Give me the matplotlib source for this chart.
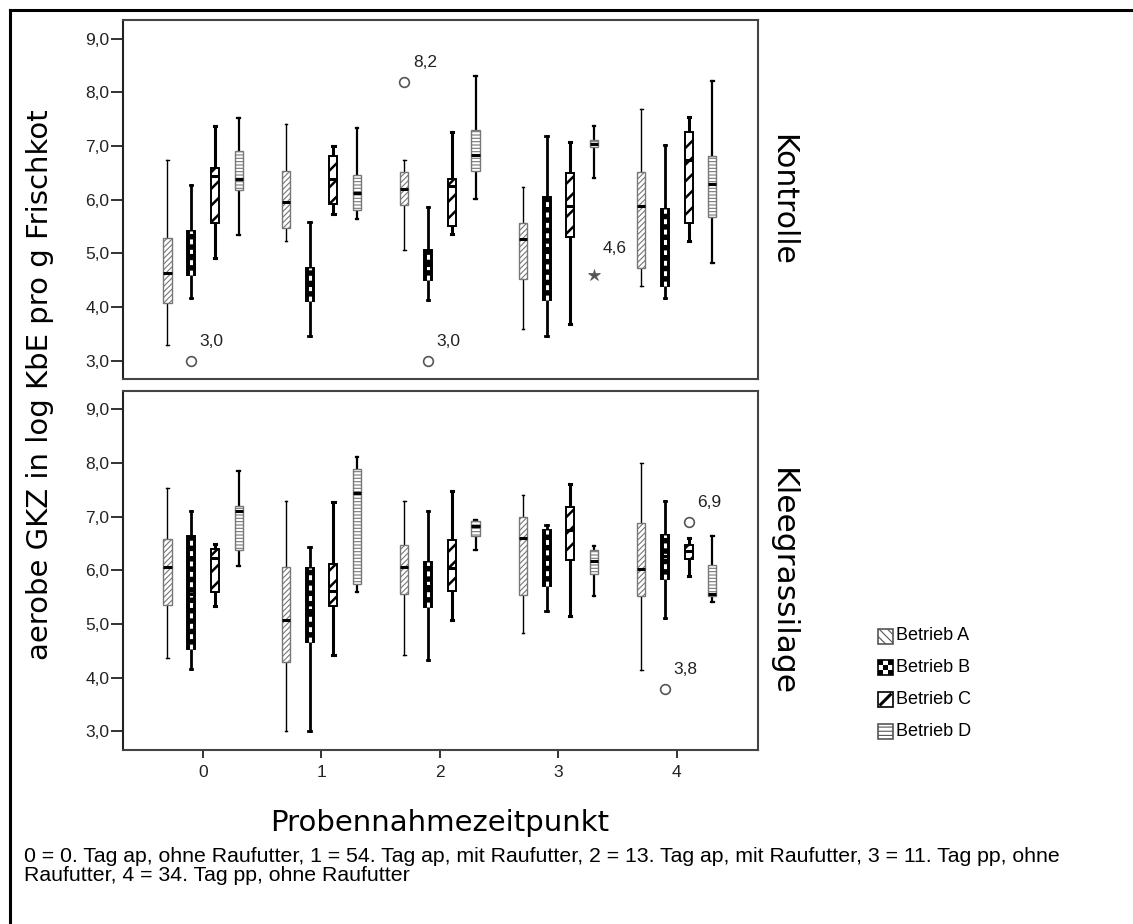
import matplotlib
matplotlib.use('Agg')
import numpy as np
from matplotlib import pyplot as plt
from matplotlib.patches import Rectangle
from matplotlib.lines import Line2D

plt.rcParams['font.family'] = ['Liberation Sans', 'DejaVu Sans']
plt.rcParams['hatch.linewidth'] = 0.8

# =============================================================================
# data: per time point (whislo, q1, median, q3, whishi)
# =============================================================================
zeitpunkte = [0, 1, 2, 3, 4]
betriebe = ['Betrieb A', 'Betrieb B', 'Betrieb C', 'Betrieb D']
gruppen = ['Kontrolle', 'Kleegrassilage']

kontrolle_A = [[3.29, 4.07, 4.63, 5.29, 6.74], [5.23, 5.47, 5.95, 6.54, 7.42], [5.07, 5.90, 6.20, 6.51, 6.74],
               [3.60, 4.53, 5.26, 5.56, 6.23], [4.39, 4.73, 5.88, 6.52, 7.69]]
kontrolle_B = [[4.17, 4.59, 4.98, 5.42, 6.28], [3.47, 4.12, 4.42, 4.73, 5.59], [4.13, 4.50, 4.79, 5.06, 5.87],
               [3.47, 4.14, 5.10, 6.05, 7.18], [4.17, 4.39, 4.95, 5.82, 7.02]]
kontrolle_C = [[4.92, 5.56, 6.45, 6.59, 7.38], [5.74, 5.93, 6.38, 6.81, 7.00], [5.36, 5.51, 6.26, 6.38, 7.26],
               [3.69, 5.31, 5.88, 6.49, 7.07], [5.24, 5.56, 6.75, 7.26, 7.54]]
kontrolle_D = [[5.34, 6.18, 6.38, 6.90, 7.52], [5.65, 5.81, 6.13, 6.47, 7.34], [6.01, 6.53, 6.83, 7.30, 8.31],
               [6.40, 6.98, 7.04, 7.12, 7.38], [4.83, 5.67, 6.29, 6.81, 8.22]]

klee_A = [[4.36, 5.35, 6.06, 6.58, 7.53], [3.00, 4.30, 5.07, 6.07, 7.29], [4.43, 5.56, 6.06, 6.47, 7.30],
          [4.84, 5.55, 6.61, 6.99, 7.40], [4.14, 5.52, 6.03, 6.89, 8.00]]
klee_B = [[4.16, 4.54, 5.56, 6.64, 7.11], [3.00, 4.66, 5.27, 6.04, 6.43], [4.33, 5.32, 5.72, 6.15, 7.11],
          [5.24, 5.72, 6.21, 6.75, 6.84], [5.12, 5.84, 6.27, 6.66, 7.30]]
klee_C = [[5.33, 5.59, 6.24, 6.40, 6.49], [4.42, 5.33, 5.62, 6.12, 7.27], [5.07, 5.62, 6.04, 6.57, 7.48],
          [5.16, 6.20, 6.75, 7.18, 7.61], [5.89, 6.22, 6.36, 6.47, 6.61]]
klee_D = [[6.09, 6.38, 7.11, 7.21, 7.86], [5.59, 5.74, 7.44, 7.89, 8.12], [6.38, 6.64, 6.82, 6.93, 6.95],
          [5.53, 5.93, 6.18, 6.38, 6.46], [5.41, 5.52, 5.56, 6.11, 6.64]]

# outliers: (gruppe index, zeitpunkt, betrieb index, value, marker)
ausreisser = [(0, 0, 1, 3.0, 'o'), (0, 2, 0, 8.2, 'o'), (0, 2, 1, 3.0, 'o'), (0, 3, 3, 4.6, '*'),
              (1, 4, 2, 6.9, 'o'), (1, 4, 1, 3.8, 'o')]

daten = [[kontrolle_A, kontrolle_B, kontrolle_C, kontrolle_D],
         [klee_A, klee_B, klee_C, klee_D]]

fussnote = ("0 = 0. Tag ap, ohne Raufutter, 1 = 54. Tag ap, mit Raufutter, 2 = 13. Tag ap, mit Raufutter, "
            "3 = 11. Tag pp, ohne\nRaufutter, 4 = 34. Tag pp, ohne Raufutter")

# =============================================================================
# styles per Betrieb
# =============================================================================
offsets = [-0.3, -0.1, 0.1, 0.3]
box_w = 0.068
stile = [
    dict(edge='#777777', face='white', hatch='//////', lw_box=1.0, lw_whisk=1.0),
    dict(edge='black', face='black', hatch=None, lw_box=1.4, lw_whisk=2.0),
    dict(edge='black', face='white', hatch='//', lw_box=1.4, lw_whisk=2.2),
    dict(edge='#777777', face='white', hatch='-----', lw_box=1.0, lw_whisk=1.6),
]

W, H = 1133, 924
fig = plt.figure(figsize=(W / 100, H / 100), dpi=100)

ax_left = 122.7 / W
ax_w = 635.6 / W
ax_h = 359.3 / H
ax_top = fig.add_axes([ax_left, 1 - 379.3 / H, ax_w, ax_h])
ax_bot = fig.add_axes([ax_left, 1 - 750 / H, ax_w, ax_h])
axes = [ax_top, ax_bot]


def draw_panel(ax, panel):
    for b, werte in enumerate(daten[panel]):
        st = stile[b]
        stats = [dict(whislo=v[0], q1=v[1], med=v[2], q3=v[3], whishi=v[4], fliers=[]) for v in werte]
        pos = [t + offsets[b] for t in zeitpunkte]
        res = ax.bxp(stats, positions=pos, widths=box_w, patch_artist=True, showfliers=False,
                     capwidths=0.02, manage_ticks=False,
                     boxprops=dict(facecolor=st['face'], edgecolor=st['edge'], linewidth=st['lw_box']),
                     whiskerprops=dict(color='black', linewidth=st['lw_whisk']),
                     capprops=dict(color='black', linewidth=st['lw_whisk']),
                     medianprops=dict(color='black', linewidth=2.2, solid_capstyle='butt'))
        for box in res['boxes']:
            box.set_zorder(3)
            if st['hatch']:
                box.set_hatch(st['hatch'])
                if b == 2 and hasattr(box, 'set_hatch_linewidth'):
                    box.set_hatch_linewidth(1.8)
        for med in res['medians']:
            med.set_zorder(4)
        if b == 1:
            # checker look: white squares down the middle of the black box
            for p, v in zip(pos, werte):
                ax.plot([p, p], [v[1], v[3]], color='white', linewidth=2.2, dashes=(1.6, 1.8),
                        solid_capstyle='butt', dash_capstyle='butt', zorder=3.5)

    for g, t, b, val, m in ausreisser:
        if g != panel:
            continue
        x = t + offsets[b]
        if m == 'o':
            ax.plot(x, val, marker='o', markersize=7, markerfacecolor='none', markeredgecolor='#555555',
                    markeredgewidth=1.2, linestyle='none', zorder=5)
            dy = 14
        else:
            ax.plot(x, val, marker='*', markersize=9, color='#555555', markeredgewidth=0.5,
                    linestyle='none', zorder=5)
            dy = 19
        ax.annotate('{:.1f}'.format(val).replace('.', ','), (x, val), xytext=(6, dy),
                    textcoords='offset points', fontsize=12.5, ha='left', va='center', color='#222222')


for i, ax in enumerate(axes):
    draw_panel(ax, i)
    ax.set_xlim(-0.678, 4.687)
    ax.set_ylim(2.655, 9.35)
    ax.set_yticks(np.arange(3, 9.5, 1.0))
    ax.set_yticklabels(['{:.1f}'.format(v).replace('.', ',') for v in np.arange(3, 9.5, 1.0)])
    ax.tick_params(axis='y', direction='out', length=8.5, width=1.3, labelsize=12.5, pad=1, colors='#222222')
    for s in ax.spines.values():
        s.set_color('#444444')
        s.set_linewidth(1.5)
    ax.spines['left'].set_color('#222222')
    ax.text(1.038, 0.5 if i == 0 else 0.468, gruppen[i], transform=ax.transAxes, rotation=-90,
            ha='center', va='center', fontsize=21.5 if i == 0 else 22.5, family='DejaVu Sans')

ax_top.set_xticks([])
ax_bot.set_xticks(zeitpunkte)
ax_bot.set_xticklabels([str(t) for t in zeitpunkte])
ax_bot.tick_params(axis='x', direction='out', length=6, width=1.3, labelsize=12.5, pad=5, colors='#222222')

fig.text(40 / W, 1 - 385 / H, 'aerobe GKZ in log KbE pro g Frischkot', rotation=90, ha='center', va='center',
         fontsize=21, family='DejaVu Sans')
fig.text(440 / W, 1 - 823 / H, 'Probennahmezeitpunkt', ha='center', va='center',
         fontsize=21, family='DejaVu Sans')
fig.text(24 / W, 1 - 866 / H, fussnote, ha='left', va='center', fontsize=15.3, linespacing=1.0)

# legend drawn by hand in pixel coordinates
lax = fig.add_axes([860 / W, 1 - 750 / H, 150 / W, 130 / H])
lax.set_xlim(860, 1010)
lax.set_ylim(750, 620)
lax.axis('off')
for k, name in enumerate(betriebe):
    yc = 636 + k * 31.8
    x0, y0, s = 878, yc - 7.5, 15
    if k == 1:
        n = 3
        for r in range(n):
            for c in range(n):
                col = 'black' if (r + c) % 2 == 0 else 'white'
                lax.add_patch(Rectangle((x0 + c * s / n, y0 + r * s / n), s / n, s / n, facecolor=col,
                                        edgecolor='none'))
        lax.add_patch(Rectangle((x0, y0), s, s, facecolor='none', edgecolor='black', linewidth=1.2))
    elif k == 2:
        lax.add_patch(Rectangle((x0, y0), s, s, facecolor='white', edgecolor='black', linewidth=1.2))
        lax.plot([x0 + 1.5, x0 + s - 1.5], [y0 + s - 1.5, y0 + 1.5], color='black', linewidth=2.2,
                 solid_capstyle='butt')
    else:
        hatch = {0: '\\\\\\\\', 3: '----'}[k]
        lax.add_patch(Rectangle((x0, y0), s, s, facecolor='white', edgecolor='#555555', hatch=hatch,
                                linewidth=1.2))
    lax.text(896, yc, name, ha='left', va='center', fontsize=13)

# outer frame (left and top edges)
fig.add_artist(Line2D([9.5 / W, 9.5 / W], [0, 1 - 9.5 / H], color='black', linewidth=2.2))
fig.add_artist(Line2D([9.5 / W, 1], [1 - 9.5 / H, 1 - 9.5 / H], color='black', linewidth=2.2))

fig.savefig('out.png', dpi=100)
